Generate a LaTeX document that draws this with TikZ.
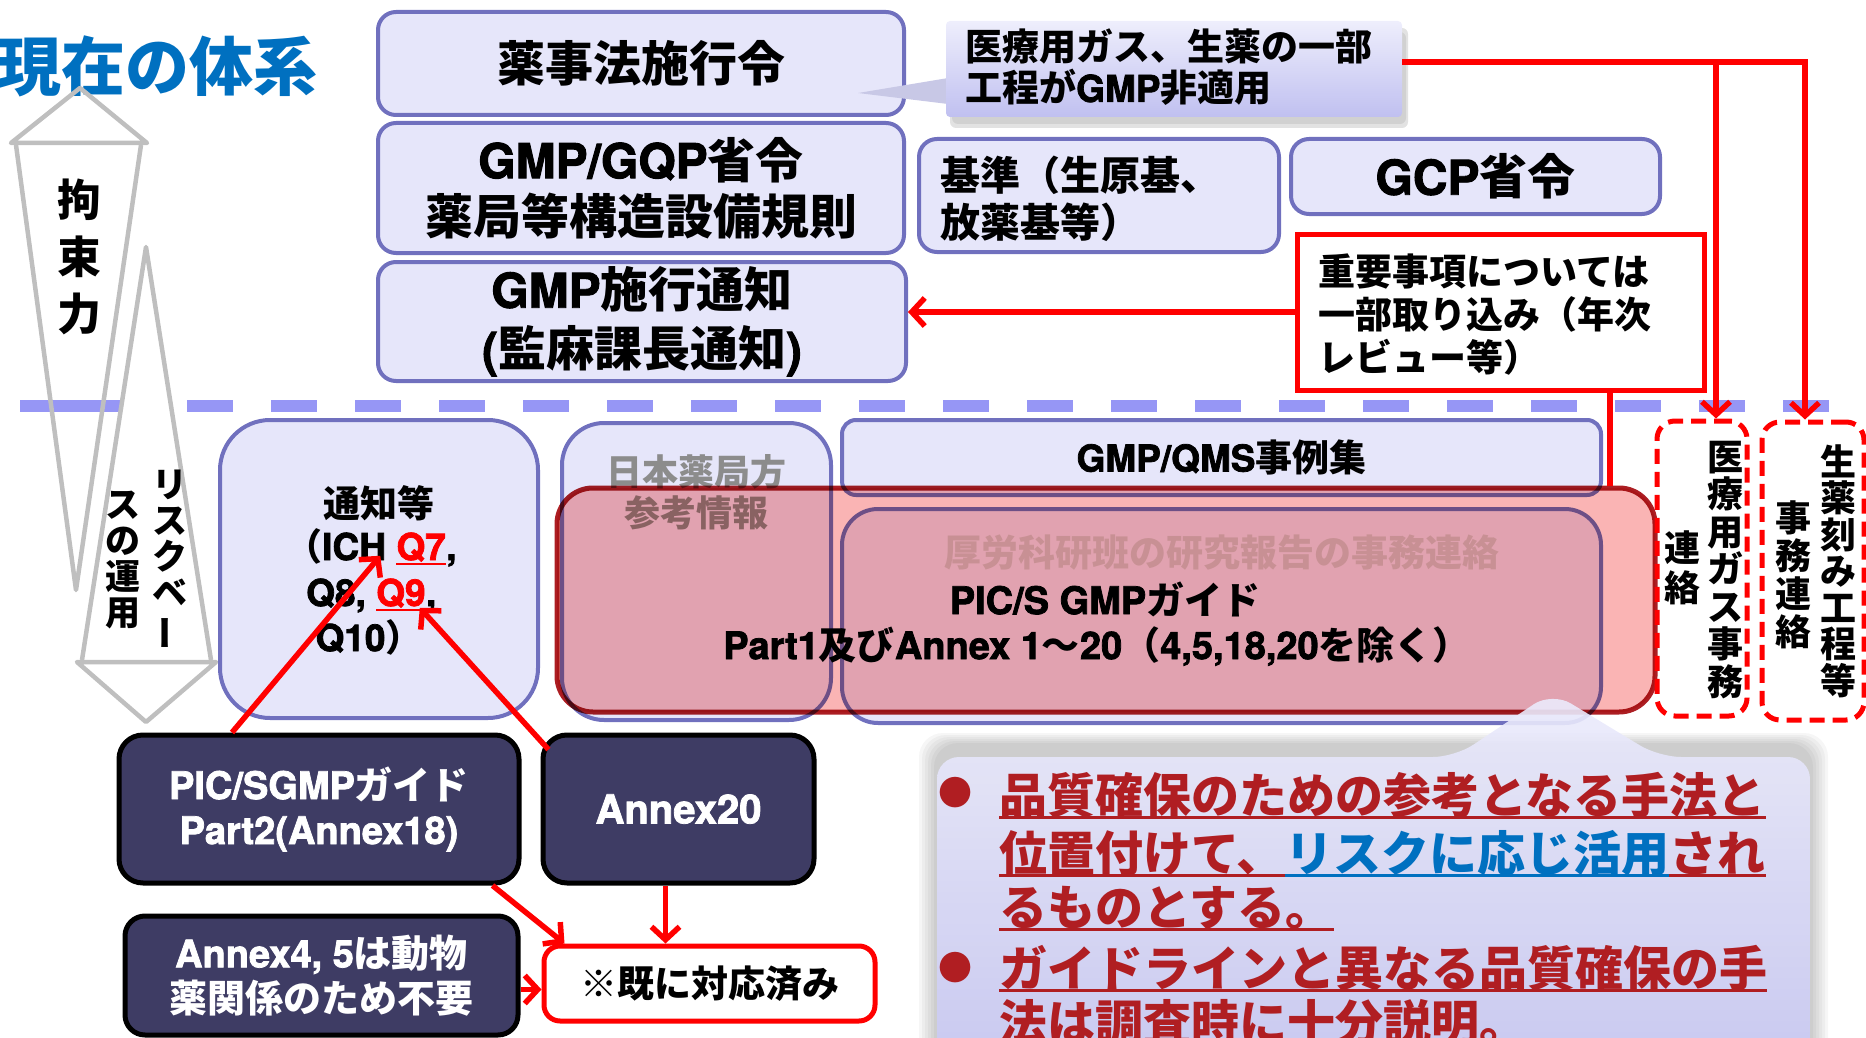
\documentclass[tikz,border=0pt]{standalone}
\usepackage{graphicx}
\usepackage{fontspec}
\setmainfont{texgyreheros-bold.otf}[FakeBold=2]
\newfontfamily\latff{texgyreheros-bold.otf}[FakeBold=2]
\newfontfamily\cjkff{Noto Sans CJK JP}
\newXeTeXintercharclass\cjkclass
\makeatletter
\count@="3000
\loop\XeTeXcharclass\count@=\cjkclass \advance\count@ by 1 \ifnum\count@<"3100 \repeat
\count@="4E00
\loop\XeTeXcharclass\count@=\cjkclass \advance\count@ by 1 \ifnum\count@<"A000 \repeat
\count@="FF00
\loop\XeTeXcharclass\count@=\cjkclass \advance\count@ by 1 \ifnum\count@<"FFF0 \repeat
\makeatother
\XeTeXcharclass"203B=\cjkclass
\XeTeXcharclass"25CF=\cjkclass
\XeTeXinterchartoks 0 \cjkclass = {\cjkff\bfseries}
\XeTeXinterchartoks 4095 \cjkclass = {\cjkff\bfseries}
\XeTeXinterchartoks \cjkclass 0 = {\latff\mdseries}
\XeTeXinterchartokenstate=1
\usetikzlibrary{arrows.meta}
\definecolor{lavfill}{RGB}{230,230,250}
\definecolor{lavline}{RGB}{112,112,190}
\definecolor{darkfill}{RGB}{62,60,100}
\definecolor{pinkfill}{RGB}{250,180,180}
\definecolor{pinkline}{RGB}{172,30,35}
\definecolor{darkred}{RGB}{176,30,34}
\definecolor{titleblue}{RGB}{0,112,192}
\definecolor{grayarrow}{RGB}{191,191,191}
\definecolor{dashblue}{RGB}{150,150,245}
\definecolor{graytext}{RGB}{140,140,140}
\definecolor{korotext}{RGB}{205,205,210}
\definecolor{iryotop}{RGB}{238,238,252}
\definecolor{iryobot}{RGB}{192,192,240}
\definecolor{tailcol}{RGB}{200,200,230}
\definecolor{callouttop}{RGB}{236,236,252}
\definecolor{calloutbot}{RGB}{200,200,245}
\newcommand\fsz[2]{\fontsize{#1}{#2}\selectfont}
\begin{document}
\begin{tikzpicture}[x=1pt,y=-1pt,
 lavbox/.style={draw=lavline,fill=lavfill,line width=4pt,rounded corners=18pt,inner sep=0pt},
 darkbox/.style={draw=black,fill=darkfill,line width=5pt,rounded corners=24pt,text=white,align=center,inner sep=0pt,font=\fsz{38}{45}},
 redbox/.style={draw=red,fill=white,line width=5pt,inner sep=0pt},
 dashbox/.style={draw=red,line width=5pt,dash pattern=on 15pt off 8pt,rounded corners=18pt,inner sep=0pt},
 redarrow/.style={draw=red,line width=5.5pt,-{Straight Barb[length=13pt,width=28pt]}},
 redline/.style={draw=red,line width=5.5pt},
 grayshape/.style={draw=grayarrow,line width=4.5pt,line join=round},
 vtext/.style={align=center,inner sep=0pt},
 txt/.style={inner sep=0pt},
 ctext/.style={inner sep=0pt,anchor=base west,text=darkred,font=\fsz{48}{48}},
 uline/.style={line width=3pt},
]
\useasboundingbox (0,0) rectangle (1866,1038);
\clip (0,0) rectangle (1866,1038);

% title
\node[txt,anchor=west,text=titleblue,font=\fsz{64}{64}] (title) at (-3,66) {現在の体系};

% dashed separator
\draw[dashblue,line width=12pt] (20,406) -- (120,406);
\draw[dashblue,line width=12pt,dash pattern=on 46pt off 38pt] (187,406) -- (1833,406);

% gray arrows
\draw[grayshape] (80,88) -- (147,143) -- (11,143) -- cycle;
\draw[grayshape] (16,145) -- (76,590) -- (141,145);
\draw[grayshape] (82,660) -- (146,247) -- (211,660);
\draw[grayshape] (77,662) -- (216,662) -- (146,722) -- cycle;
\node[vtext,font=\fsz{44}{57}] (kousoku) at (79,257) {拘\\束\\力};
\node[vtext,font=\fsz{35}{36}] (risk1) at (170,560) {リ\\ス\\ク\\ベ\\\rotatebox[origin=c]{90}{ー}};
\node[vtext,font=\fsz{35}{36}] (risk2) at (123,560) {ス\\の\\運\\用};

% upper boxes
\node[lavbox,minimum width=526pt,minimum height=103pt,font=\fsz{48}{56}] (yakuji) at (641,63.5) {薬事法施行令};
\node[lavbox,minimum width=526pt,minimum height=130pt,align=center,font=\fsz{48}{56}] (gmpgqp) at (641,188) {GMP/GQP省令\\薬局等構造設備規則};
\node[lavbox,minimum width=528pt,minimum height=119pt,align=center,font=\fsz{48}{59}] (gmpsekou) at (642,321.5) {GMP施行通知\\(監麻課長通知)};

% callout iryo
\fill[black!45,opacity=0.25,rounded corners=6pt] (950,28) rectangle (1408,128);
\fill[black!45,opacity=0.2,rounded corners=6pt] (952,32) rectangle (1406,124);
\fill[tailcol] (948,78) -- (858,93) -- (948,104) -- cycle;
\node[minimum width=456pt,minimum height=96pt,inner sep=0pt,top color=iryotop,bottom color=iryobot,rounded corners=4pt] (iryo) at (1174,69) {};
\node[txt,anchor=west,align=left,font=\fsz{37}{41}] (iryotext) at (965,67.5) {医療用ガス、生薬の一部\\工程がGMP非適用};

\node[lavbox,minimum width=360pt,minimum height=113pt] (kijun) at (1099,195.5) {};
\node[txt,anchor=west,align=left,font=\fsz{40}{47}] (kijuntext) at (940,198.5) {基準（生原基、\\放薬基等）};
\node[lavbox,minimum width=369pt,minimum height=75pt,font=\fsz{48}{48}] (gcp) at (1475.5,176.5) {GCP省令};

\node[redbox,minimum width=407pt,minimum height=156pt] (juyo) at (1500.5,312) {};
\node[txt,anchor=west,align=left,font=\fsz{37}{43}] (juyotext) at (1318,315) {重要事項については\\一部取り込み（年次\\レビュー等）};

% lower boxes
\node[lavbox,rounded corners=50pt,minimum width=318pt,minimum height=298pt] (tsuchi) at (379,569) {};
\node[lavbox,rounded corners=42pt,minimum width=269pt,minimum height=297pt] (nihon) at (696.5,571.5) {};
\node[txt,align=center,text=graytext,font=\fsz{36}{41}] (nihontext) at (696,492) {日本薬局方\\参考情報};
\node[lavbox,rounded corners=14pt,minimum width=759pt,minimum height=75pt,font=\fsz{37}{37}] (qms) at (1221.5,457.5) {GMP/QMS事例集};
\node[lavbox,rounded corners=36pt,minimum width=759pt,minimum height=214pt] (koro) at (1221.5,616) {};
\node[txt,text=korotext,font=\fsz{37}{37}] (korotext) at (1222,553) {厚労科研班の研究報告の事務連絡};

% pink overlay
\begin{scope}[blend mode=multiply]
\node[draw=pinkline,fill=pinkfill,line width=5pt,rounded corners=36pt,minimum width=1098pt,minimum height=224pt,inner sep=0pt] (pink) at (1106,600) {};
\end{scope}
\node[txt,font=\fsz{38}{38}] (picsg) at (1105,599) {PIC/S GMPガイド};
\node[txt,font=\fsz{38}{38}] (part1) at (1097,646) {Part1及びAnnex 1～20（4,5,18,20を除く）};

% text of tsuchi box
\node[txt,font=\fsz{37}{37}] (tl1) at (379,503) {通知等};
\node[txt,anchor=base west,font=\fsz{37}{37}] (tl2a) at (285,560) {（ICH};
\node[txt,anchor=base west,text=red,font=\fsz{37}{37}] (q7) at ([xshift=10pt]tl2a.base east) {Q7};
\node[txt,anchor=base west,font=\fsz{37}{37}] (tl2b) at (q7.base east) {,};
\draw[red,line width=2.5pt] ([yshift=-4pt]q7.base west) -- ([yshift=-4pt]q7.base east);
\node[txt,anchor=base west,font=\fsz{37}{37}] (tl3a) at (306,606) {Q8,};
\node[txt,anchor=base west,text=red,font=\fsz{37}{37}] (q9) at ([xshift=10pt]tl3a.base east) {Q9};
\node[txt,anchor=base west,font=\fsz{37}{37}] (tl3b) at (q9.base east) {,};
\draw[red,line width=2.5pt] ([yshift=-4pt]q9.base west) -- ([yshift=-4pt]q9.base east);
\node[txt,font=\fsz{37}{37}] (tl4) at (369,637) {Q10）};

% red dashed boxes
\node[dashbox,minimum width=90pt,minimum height=295pt] (gas) at (1702,568.5) {};
\node[dashbox,minimum width=102pt,minimum height=298pt] (shoyaku) at (1813,571) {};
\node[vtext,font=\fsz{36}{37.5}] (gas1) at (1725,570) {医\\療\\用\\ガ\\ス\\事\\務};
\node[vtext,font=\fsz{36}{40}] (gas2) at (1682,568) {連\\絡};
\node[vtext,font=\fsz{36}{36.5}] (sho1) at (1838,571) {生\\薬\\刻\\み\\工\\程\\等};
\node[vtext,font=\fsz{36}{38}] (sho2) at (1793,575) {事\\務\\連\\絡};

% red connectors upper
\coordinate (j1) at (1716,62);
\coordinate (j2) at (1805,62);
\coordinate (j3) at (1610,0);
\draw[redarrow] (iryo.east |- j2) -| (j2 |- shoyaku.north);
\draw[redarrow] (j1) -- (j1 |- gas.north);
\draw[redarrow] (juyo.west) -- (juyo.west -| gmpsekou.east);
\draw[redline] (juyo.south -| j3) -- (pink.north -| j3);

% dark boxes
\node[darkbox,minimum width=400pt,minimum height=148pt] (pics) at (319,809) {PIC/SGMPガイド\\Part2(Annex18)};
\node[darkbox,minimum width=271pt,minimum height=148pt,font=\fsz{40}{40}] (annex20) at (678.5,809) {Annex20};
\node[darkbox,minimum width=393pt,minimum height=119pt,rounded corners=20pt] (annex45) at (321.5,975.5) {Annex4, 5は動物\\薬関係のため不要};
\node[redbox,rounded corners=16pt,minimum width=331pt,minimum height=75pt,font=\fsz{37}{37}] (sude) at (709.5,983.5) {※既に対応済み};

% red arrows lower
\draw[redarrow] ([xshift=-87pt]pics.north) -- ([shift={(-16pt,6pt)}]q7.south west);
\draw[redarrow] ([shift={(8pt,-17pt)}]annex20.north west) -- ([xshift=-6pt]q9.south east);
\draw[redarrow] ([xshift=-29pt]pics.south east) -- ([xshift=23pt]sude.north west);
\draw[redarrow] ([xshift=-13pt]annex20.south) -- ([xshift=-13pt]annex20.south |- sude.north);
\draw[redarrow] ([yshift=-14pt]annex45.east) -- ([yshift=-14pt]annex45.east -| sude.west);

% big callout
\foreach \i in {1,...,6} {
  \fill[black,opacity=0.035,rounded corners=24pt] (937-\i*3,745-\i*2) rectangle (1810+\i*3,1080);
}
\path[top color=callouttop,bottom color=calloutbot,fill opacity=0.9,rounded corners=22pt] (937,757) -- (1455,757) -- (1552,692) -- (1659,757) -- (1810,757) -- (1810,1080) -- (937,1080) -- cycle;

\node[txt,text=darkred,font=\fsz{34}{34}] (b1) at (955,793) {●};
\node[txt,text=darkred,font=\fsz{34}{34}] (b2) at (955,968) {●};
\node[ctext] (c1) at (999,813) {品質確保のための参考となる手法と};
\draw[darkred,uline] ([yshift=-4pt]c1.base west) -- ([yshift=-4pt]c1.base east);
\node[ctext] (c2a) at (999,871) {位置付けて、};
\node[ctext,text=titleblue] (c2b) at (c2a.base east) {リスクに応じ活用};
\node[ctext] (c2c) at (c2b.base east) {され};
\draw[darkred,uline] ([yshift=-4pt]c2a.base west) -- ([yshift=-4pt]c2a.base east);
\draw[titleblue,uline] ([yshift=-4pt]c2b.base west) -- ([yshift=-4pt]c2b.base east);
\draw[darkred,uline] ([yshift=-4pt]c2c.base west) -- ([yshift=-4pt]c2c.base east);
\node[ctext] (c3) at (999,925) {るものとする。};
\draw[darkred,uline] ([yshift=-4pt]c3.base west) -- ([yshift=-4pt]c3.base east);
\node[ctext] (c4) at (999,986) {ガイドラインと異なる品質確保の手};
\draw[darkred,uline] ([yshift=-4pt]c4.base west) -- ([yshift=-4pt]c4.base east);
\node[ctext] (c5) at (999,1040) {法は調査時に十分説明。};
\draw[darkred,uline] ([yshift=-4pt]c5.base west) -- ([yshift=-4pt]c5.base east);
\end{tikzpicture}
\end{document}
